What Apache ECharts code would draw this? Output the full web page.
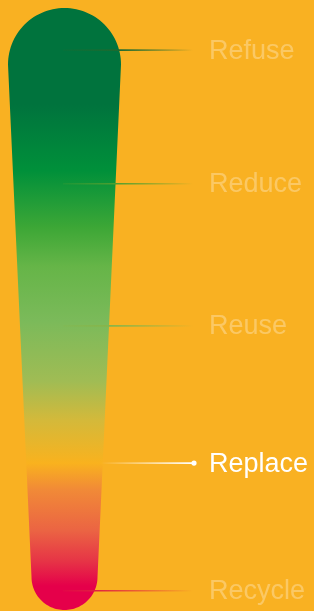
<!DOCTYPE html>
<html>
<head>
<meta charset="utf-8">
<script src="https://cdn.jsdelivr.net/npm/echarts@6/dist/echarts.min.js"></script>
<style>
  html, body { margin: 0; padding: 0; background: #F9B122; }
  #main { width: 314px; height: 611px; }
</style>
</head>
<body>
<div id="main"></div>
<script>
  // tiers of the hierarchy, top to bottom
  const tiers = ['Refuse', 'Reduce', 'Reuse', 'Replace', 'Recycle'];
  // where each tier sits along the tube (0 = top, 100 = bottom)
  const tierLevel = [7.0, 29.2, 52.8, 75.6, 96.8];
  const highlighted = 'Replace';
  // tube extent along the same scale
  const tubeRange = [0, 100];

  // styling
  const bg = '#F9B122';
  const tubeCx = 64.5, rTop = 56.5, rBot = 33;
  const lineStartX = 63, lineEndX = 193, labelX = 209;
  const tierColor = ['#1d6a2f', '#4f9f2f', '#86b54a', '#ffffff', '#e01f40'];
  const tubeStops = [
    [0, '#00733D'], [0.16, '#00733D'], [0.27, '#00903A'], [0.365, '#3DA736'],
    [0.43, '#66B548'], [0.52, '#7BBA5A'], [0.62, '#A0BC54'], [0.685, '#D4B93A'],
    [0.756, '#F9B21E'], [0.80, '#F18A37'], [0.868, '#EB6443'], [0.92, '#E63346'],
    [0.96, '#E5004A'], [1, '#E5004A']
  ];

  const chart = echarts.init(document.getElementById('main'));

  function halfWidth(y, cyTop, cyBot) {
    if (y <= cyTop) return Math.sqrt(Math.max(0, rTop * rTop - (cyTop - y) * (cyTop - y)));
    if (y >= cyBot) return Math.sqrt(Math.max(0, rBot * rBot - (y - cyBot) * (y - cyBot)));
    const t = (y - cyTop) / (cyBot - cyTop);
    return rTop + (rBot - rTop) * t;
  }

  let cyTopPx = 0, cyBotPx = 0;

  function renderTube(params, api) {
    const top = api.coord([tubeCx, api.value(0)]);
    const bot = api.coord([tubeCx, api.value(1)]);
    const cx = top[0];
    cyTopPx = top[1] + rTop;
    cyBotPx = bot[1] - rBot;
    const pts = [];
    const n = 60;
    for (let i = 0; i <= n; i++) {
      const a = Math.PI - Math.PI * i / n;
      pts.push([cx + rTop * Math.cos(a), cyTopPx - rTop * Math.sin(a)]);
    }
    for (let i = 0; i <= n; i++) {
      const a = -Math.PI * i / n;
      pts.push([cx + rBot * Math.cos(a), cyBotPx - rBot * Math.sin(a)]);
    }
    return {
      type: 'polygon',
      shape: { points: pts },
      style: {
        fill: {
          type: 'linear', x: 0, y: 0, x2: 0, y2: 1,
          colorStops: tubeStops.map(s => ({ offset: s[0], color: s[1] }))
        }
      }
    };
  }

  function rgba(hex, a) {
    const n = parseInt(hex.slice(1), 16);
    return 'rgba(' + (n >> 16) + ',' + ((n >> 8) & 255) + ',' + (n & 255) + ',' + a + ')';
  }

  function renderTier(params, api) {
    const i = params.dataIndex;
    const name = tiers[i];
    const p0 = api.coord([lineStartX, api.value(1)]);
    const p1 = api.coord([lineEndX, api.value(1)]);
    const y = p0[1];
    const edge = tubeCx + halfWidth(y, cyTopPx, cyBotPx);
    const col = tierColor[i];
    const hi = name === highlighted;
    const children = [];
    let x0 = p0[0];
    let stops;
    if (hi) {
      x0 = edge - 2;
      stops = [{ offset: 0, color: rgba(col, 0) }, { offset: 1, color: rgba(col, 1) }];
    } else {
      const ef = (edge - x0) / (p1[0] - x0);
      stops = [
        { offset: 0, color: rgba(col, 0.2) },
        { offset: ef, color: rgba(col, 1) },
        { offset: 1, color: rgba(col, 0) }
      ];
    }
    children.push({
      type: 'line',
      shape: { x1: x0, y1: y, x2: p1[0], y2: y },
      style: {
        lineWidth: 1.6,
        stroke: { type: 'linear', x: x0, y: 0, x2: p1[0], y2: 0, global: true, colorStops: stops }
      }
    });
    if (hi) {
      children.push({
        type: 'circle',
        shape: { cx: p1[0] + 1, cy: y, r: 2.6 },
        style: { fill: '#ffffff' }
      });
    }
    const lx = api.coord([labelX, api.value(1)])[0];
    children.push({
      type: 'text',
      style: {
        text: name,
        x: lx,
        y: y + 1,
        fill: hi ? '#ffffff' : 'rgba(255,255,255,0.3)',
        fontSize: 27,
        fontFamily: '"Liberation Sans", Arial, sans-serif',
        align: 'left',
        verticalAlign: 'middle'
      }
    });
    return { type: 'group', children: children };
  }

  const option = {
    backgroundColor: bg,
    animation: false,
    grid: { left: 0, right: 0, top: 8, bottom: 1 },
    xAxis: { type: 'value', min: 0, max: 314, show: false },
    yAxis: { type: 'value', min: 0, max: 100, inverse: true, show: false },
    series: [
      {
        type: 'custom',
        renderItem: renderTube,
        data: [tubeRange],
        encode: { x: -1, y: [0, 1] },
        silent: true,
        z: 1
      },
      {
        type: 'custom',
        renderItem: renderTier,
        data: tierLevel.map((v, i) => [i, v]),
        encode: { x: -1, y: 1 },
        silent: true,
        z: 2
      }
    ]
  };

  chart.setOption(option);
</script>
</body>
</html>
